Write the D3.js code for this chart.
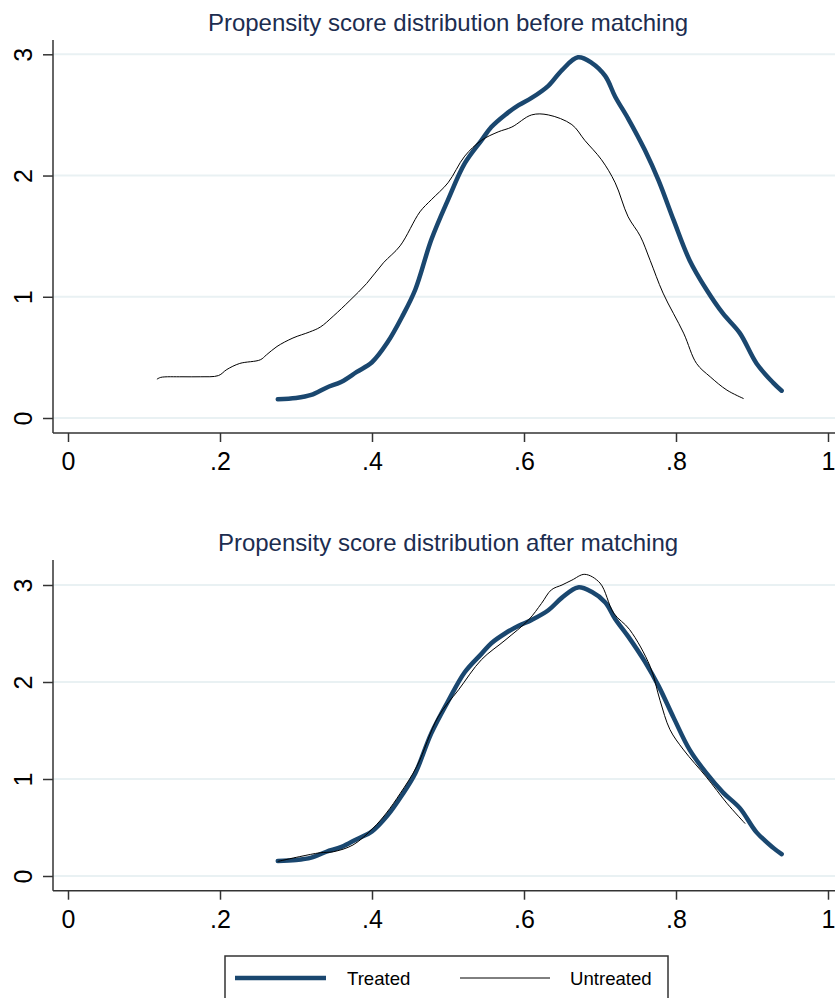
<!DOCTYPE html>
<html>
<head>
<meta charset="utf-8">
<script src="https://cdn.jsdelivr.net/npm/d3@7"></script>
<style>
  html, body { margin: 0; padding: 0; background: #ffffff; }
  svg { display: block; font-family: "Liberation Sans", Arial, sans-serif; }
</style>
</head>
<body>
<svg id="chart" width="835" height="998"></svg>
<script>
// Kernel density estimates of the propensity score
const treatedX = [0.276, 0.30, 0.32, 0.34, 0.36, 0.38, 0.40, 0.42, 0.44, 0.457, 0.478, 0.50, 0.522, 0.544, 0.557, 0.575, 0.593, 0.61, 0.632, 0.65, 0.671, 0.689, 0.707, 0.72, 0.737, 0.759, 0.777, 0.797, 0.818, 0.840, 0.862, 0.884, 0.906, 0.928, 0.939];
const treatedY = [0.155, 0.165, 0.19, 0.25, 0.30, 0.38, 0.46, 0.62, 0.84, 1.06, 1.47, 1.80, 2.10, 2.29, 2.40, 2.50, 2.58, 2.64, 2.74, 2.87, 2.975, 2.93, 2.82, 2.65, 2.47, 2.21, 1.96, 1.63, 1.30, 1.06, 0.86, 0.70, 0.45, 0.29, 0.225];

const untreatedBeforeX = [0.117, 0.122, 0.15, 0.174, 0.198, 0.209, 0.226, 0.253, 0.261, 0.275, 0.296, 0.318, 0.332, 0.349, 0.371, 0.393, 0.415, 0.437, 0.463, 0.478, 0.50, 0.522, 0.544, 0.566, 0.584, 0.61, 0.632, 0.663, 0.68, 0.702, 0.72, 0.737, 0.753, 0.766, 0.783, 0.810, 0.827, 0.845, 0.867, 0.889];
const untreatedBeforeY = [0.32, 0.335, 0.34, 0.34, 0.35, 0.40, 0.45, 0.48, 0.52, 0.59, 0.66, 0.71, 0.75, 0.84, 0.97, 1.11, 1.28, 1.42, 1.70, 1.80, 1.94, 2.16, 2.29, 2.36, 2.40, 2.50, 2.50, 2.42, 2.29, 2.13, 1.94, 1.66, 1.50, 1.30, 1.03, 0.70, 0.45, 0.34, 0.23, 0.16];

const untreatedAfterX = [0.276, 0.305, 0.332, 0.349, 0.375, 0.401, 0.419, 0.437, 0.459, 0.487, 0.514, 0.544, 0.575, 0.606, 0.623, 0.636, 0.65, 0.663, 0.68, 0.70, 0.718, 0.739, 0.766, 0.779, 0.792, 0.810, 0.840, 0.867, 0.891];
const untreatedAfterY = [0.15, 0.20, 0.24, 0.25, 0.32, 0.49, 0.65, 0.85, 1.13, 1.64, 1.92, 2.23, 2.43, 2.64, 2.81, 2.95, 3.00, 3.05, 3.11, 3.02, 2.71, 2.54, 2.16, 1.81, 1.51, 1.30, 1.02, 0.75, 0.54];

const xTicks = [0, 0.2, 0.4, 0.6, 0.8, 1];
const xTickLabels = ["0", ".2", ".4", ".6", ".8", "1"];
const yTicks = [0, 1, 2, 3];
const yTickLabels = ["0", "1", "2", "3"];

const panelTitles = ["Propensity score distribution before matching", "Propensity score distribution after matching"];
const seriesNames = ["Treated", "Untreated"];

const navy = "#1a476f";
const titleColor = "#1c2d50";
const gridColor = "#e9f1f3";
const axisColor = "#333333";

const svg = d3.select("#chart");
const zip = (xs, ys) => xs.map((x, i) => ({ x, y: ys[i] }));

const panels = [
  { title: panelTitles[0], titleY: 31, yTop: 40, yAxis: 433, y0: 418, y3: 54.3,
    untreated: zip(untreatedBeforeX, untreatedBeforeY) },
  { title: panelTitles[1], titleY: 551, yTop: 560, yAxis: 890.7, y0: 876, y3: 585,
    untreated: zip(untreatedAfterX, untreatedAfterY) }
];
const treated = zip(treatedX, treatedY);

const axisX = 53;
const x = d3.scaleLinear().domain([0, 1]).range([68, 828]);

panels.forEach(p => {
  const y = d3.scaleLinear().domain([0, 3]).range([p.y0, p.y3]);
  const g = svg.append("g");

  // title
  g.append("text")
    .attr("x", 448).attr("y", p.titleY)
    .attr("text-anchor", "middle")
    .attr("font-size", 24)
    .attr("fill", titleColor)
    .text(p.title);

  // horizontal grid
  g.selectAll(".grid").data(yTicks).enter().append("line")
    .attr("x1", axisX).attr("x2", 835)
    .attr("y1", d => y(d)).attr("y2", d => y(d))
    .attr("stroke", gridColor).attr("stroke-width", 2);

  // y axis
  const yAxis = d3.axisLeft(y).tickValues(yTicks).tickSize(10).tickSizeOuter(0)
    .tickFormat((d, i) => yTickLabels[i]);
  const ya = g.append("g").attr("transform", `translate(${axisX},0)`).call(yAxis);
  ya.select(".domain").remove();
  ya.selectAll(".tick line").attr("stroke", axisColor).attr("stroke-width", 1.5);
  ya.selectAll(".tick text")
    .attr("x", null).attr("dy", null)
    .attr("transform", "translate(-21,0) rotate(-90)")
    .attr("text-anchor", "middle")
    .attr("font-size", 25)
    .attr("font-family", "Liberation Sans, Arial, sans-serif")
    .attr("fill", "#000");
  g.append("line")
    .attr("x1", axisX).attr("x2", axisX)
    .attr("y1", p.yTop).attr("y2", p.yAxis)
    .attr("stroke", axisColor).attr("stroke-width", 1.5);

  // x axis
  const xAxis = d3.axisBottom(x).tickValues(xTicks).tickSize(9).tickSizeOuter(0)
    .tickFormat((d, i) => xTickLabels[i]);
  const xa = g.append("g").attr("transform", `translate(0,${p.yAxis})`).call(xAxis);
  xa.select(".domain").remove();
  xa.selectAll(".tick line").attr("stroke", axisColor).attr("stroke-width", 1.5);
  xa.selectAll(".tick text")
    .attr("y", 37).attr("dy", null)
    .attr("font-size", 25)
    .attr("font-family", "Liberation Sans, Arial, sans-serif")
    .attr("fill", "#000");
  g.append("line")
    .attr("x1", axisX).attr("x2", 835)
    .attr("y1", p.yAxis).attr("y2", p.yAxis)
    .attr("stroke", axisColor).attr("stroke-width", 1.5);

  const line = d3.line().x(d => x(d.x)).y(d => y(d.y)).curve(d3.curveCatmullRom.alpha(0.5));

  g.append("path").datum(treated)
    .attr("d", line).attr("fill", "none")
    .attr("stroke", navy).attr("stroke-width", 4.5)
    .attr("stroke-linejoin", "round").attr("stroke-linecap", "round");

  g.append("path").datum(p.untreated)
    .attr("d", line).attr("fill", "none")
    .attr("stroke", "#000").attr("stroke-width", 1);
});

// legend
const lg = svg.append("g");
lg.append("rect")
  .attr("x", 225).attr("y", 956).attr("width", 443).attr("height", 60)
  .attr("fill", "#fff").attr("stroke", axisColor).attr("stroke-width", 1.5);
lg.append("line").attr("x1", 235).attr("x2", 326).attr("y1", 978).attr("y2", 978)
  .attr("stroke", navy).attr("stroke-width", 4.5);
lg.append("text").attr("x", 347).attr("y", 985).attr("font-size", 18.6).attr("fill", "#000").text(seriesNames[0]);
lg.append("line").attr("x1", 460).attr("x2", 550).attr("y1", 978).attr("y2", 978)
  .attr("stroke", "#000").attr("stroke-width", 1);
lg.append("text").attr("x", 570).attr("y", 985).attr("font-size", 18.6).attr("fill", "#000").text(seriesNames[1]);
</script>
</body>
</html>
